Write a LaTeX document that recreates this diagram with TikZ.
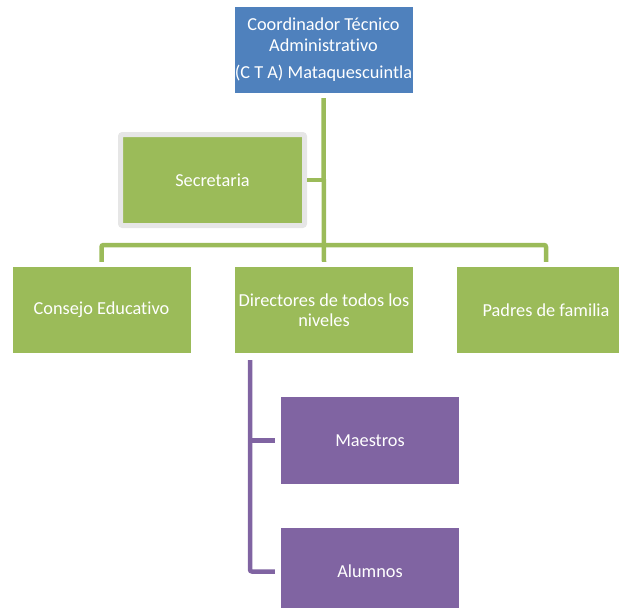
\documentclass[tikz,border=0pt]{standalone}
\usepackage{fontspec}
\setmainfont{Carlito}[Ligatures=CommonOff]
\usepackage{xcolor}
\usepackage{tikz}
\usetikzlibrary{positioning}
\definecolor{ctablue}{RGB}{79,129,189}
\definecolor{ctagreen}{RGB}{155,187,89}
\definecolor{ctapurple}{RGB}{128,100,162}
\definecolor{ctaframe}{RGB}{230,230,230}
\begin{document}
\begin{tikzpicture}[x=1pt,y=-1pt,
    caja/.style={fill=#1, text=white, minimum width=178pt, minimum height=86pt,
      inner sep=0pt, align=center, font=\fontsize{18.3}{20.5}\selectfont},
    linea/.style={draw=#1, line width=4.5pt, rounded corners=2pt}]
          \clip (0,0) rectangle (619,608);
          \node[caja=ctablue] (cta) at (323.5,50) {Coordinador Técnico\\Administrativo\\[7pt](C T A) Mataquescuintla};
          \node[caja=ctagreen, draw=ctaframe, line width=5pt, rounded corners=2pt,
            minimum width=184pt, minimum height=91pt] (sec) at (212.5,180) {Secretaria};
          \node[caja=ctagreen] (con) at (101.5,310) {Consejo Educativo};
          \node[caja=ctagreen] (dir) at (324,310) {Directores de todos los\\niveles};
          \node[caja=ctagreen] (pad) at (546,310) {Padres de familia};
          \node[caja=ctapurple, minimum height=87pt] (mae) at (370,440.5) {Maestros};
          \node[caja=ctapurple, minimum height=87pt] (alu) at (370,571.5) {Alumnos};
           % % lineas del organigrama
          \coordinate (bus) at (324,245);
          \coordinate (tronco) at (250,360);
          \draw[linea=ctagreen] ([yshift=-5pt]cta.south) -- ([yshift=5pt]dir.north);
          \draw[linea=ctagreen] (sec.east) -- (sec.east -| bus);
          \draw[linea=ctagreen] ([yshift=5pt]con.north) |- (bus) -| ([yshift=5pt]pad.north);
          \draw[linea=ctapurple] (tronco) |- ([xshift=-6pt]alu.west);
          \draw[linea=ctapurple] (tronco |- mae.west) -- ([xshift=-6pt]mae.west);
        \end{tikzpicture}
\end{document}
